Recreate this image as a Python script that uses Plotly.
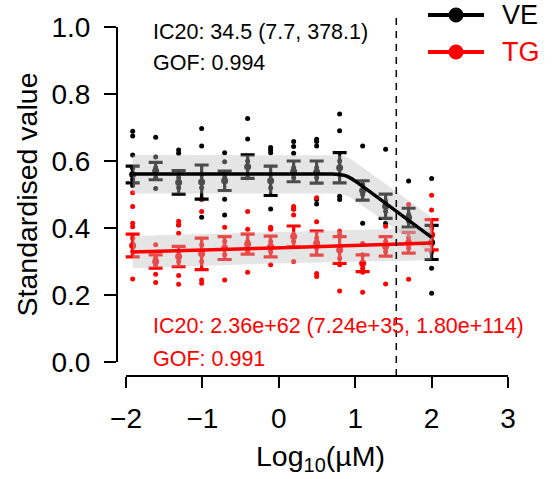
import math
import plotly.graph_objects as go

# ---------------- data ----------------
log_conc = [-1.913, -1.612, -1.311, -1.010, -0.709, -0.408, -0.107,
            0.194, 0.495, 0.796, 1.097, 1.398, 1.699, 2.000]

ve_mean = [0.560, 0.570, 0.536, 0.537, 0.541, 0.583, 0.541,
           0.569, 0.567, 0.580, 0.512, 0.465, 0.431, 0.357]
ve_se = [0.025, 0.026, 0.035, 0.051, 0.029, 0.035, 0.044,
         0.031, 0.033, 0.045, 0.029, 0.036, 0.028, 0.051]
tg_mean = [0.348, 0.300, 0.315, 0.323, 0.340, 0.352, 0.345,
           0.375, 0.355, 0.334, 0.295, 0.345, 0.356, 0.380]
tg_se = [0.034, 0.020, 0.030, 0.047, 0.034, 0.030, 0.031,
         0.031, 0.036, 0.040, 0.025, 0.029, 0.031, 0.045]

ve_points = [
    [0.689, 0.675, 0.618, 0.578, 0.545, 0.527],
    [0.671, 0.612, 0.580, 0.550, 0.518],
    [0.633, 0.623, 0.550, 0.520, 0.409],
    [0.697, 0.645, 0.560, 0.520, 0.486, 0.432],
    [0.625, 0.598, 0.550, 0.486, 0.439],
    [0.727, 0.666, 0.600, 0.550],
    [0.640, 0.633, 0.625, 0.560, 0.520, 0.457],
    [0.658, 0.643, 0.623, 0.580, 0.550, 0.457],
    [0.665, 0.658, 0.645, 0.580, 0.550, 0.485, 0.472],
    [0.740, 0.690, 0.600, 0.560, 0.495, 0.485],
    [0.645, 0.530, 0.500, 0.414],
    [0.635, 0.480, 0.450, 0.414],
    [0.540, 0.440, 0.420],
    [0.548, 0.380, 0.330, 0.280, 0.205],
]
tg_points = [
    [0.505, 0.464, 0.414, 0.404, 0.370, 0.330, 0.248],
    [0.350, 0.310, 0.290, 0.262, 0.237],
    [0.420, 0.410, 0.384, 0.330, 0.300, 0.258, 0.232],
    [0.486, 0.449, 0.350, 0.300, 0.245, 0.235],
    [0.402, 0.360, 0.320, 0.245],
    [0.449, 0.396, 0.360, 0.330, 0.268],
    [0.402, 0.396, 0.360, 0.330, 0.290],
    [0.464, 0.456, 0.439, 0.380, 0.360, 0.300],
    [0.490, 0.419, 0.370, 0.340, 0.264, 0.255],
    [0.390, 0.380, 0.340, 0.310, 0.290, 0.212],
    [0.354, 0.320, 0.280, 0.268, 0.208],
    [0.405, 0.360, 0.330, 0.233],
    [0.470, 0.370, 0.340, 0.247],
    [0.498, 0.454, 0.400, 0.360, 0.330],
]

ve_fit_x = [-1.913, 0.70, 0.78, 0.86, 0.94, 1.02, 2.00]
ve_fit_y = [0.561, 0.561, 0.560, 0.557, 0.549, 0.537, 0.372]
ve_fit_lo = [0.503, 0.503, 0.502, 0.499, 0.491, 0.479, 0.322]
ve_fit_hi = [0.618, 0.618, 0.617, 0.614, 0.606, 0.594, 0.432]

tg_fit_x = [-1.913, 0.04, 2.00]
tg_fit_y = [0.328, 0.341, 0.355]
tg_fit_lo = [0.280, 0.295, 0.304]
tg_fit_hi = [0.376, 0.389, 0.401]

ve_ic20 = 34.5
series_names = ["VE", "TG"]
ve_labels = ["IC20: 34.5 (7.7, 378.1)", "GOF: 0.994"]
tg_labels = ["IC20: 2.36e+62 (7.24e+35, 1.80e+114)", "GOF: 0.991"]
x_ticks = [-2, -1, 0, 1, 2, 3]
y_ticks = [0.0, 0.2, 0.4, 0.6, 0.8, 1.0]
y_ticktext = ["0.0", "0.2", "0.4", "0.6", "0.8", "1.0"]

# ---------------- style ----------------
FONT = "Liberation Sans, Arial, sans-serif"
BLACK = "#000000"
RED = "#FF0000"
RIBBON = "rgba(190,190,190,0.4)"

W, H = 560, 479
ML, MR, MT, MB = 117, 40, 17, 103
PW = W - ML - MR
PH = H - MT - MB
XR = [-2.118, -2.118 + PW / 76.4]
YR = [-14 / 335, -14 / 335 + PH / 335]


def px2paper_x(px):
    return (px - ML) / PW


def px2paper_y(py):
    return (H - MB - py) / PH


def flatten(cols, xs):
    fx, fy = [], []
    for x, col in zip(xs, cols):
        for v in col:
            fx.append(x)
            fy.append(v)
    return fx, fy


fig = go.Figure()

# raw points
for pts, col in [(ve_points, BLACK), (tg_points, RED)]:
    fx, fy = flatten(pts, log_conc)
    fig.add_trace(go.Scatter(x=fx, y=fy, mode="markers",
                             marker=dict(color=col, size=5, line=dict(width=0)),
                             showlegend=False, hoverinfo="skip"))

# means with error bars
for m, se, col in [(ve_mean, ve_se, BLACK), (tg_mean, tg_se, RED)]:
    fig.add_trace(go.Scatter(x=log_conc, y=m, mode="markers",
                             marker=dict(color=col, size=7, line=dict(width=0)),
                             error_y=dict(type="data", array=se, visible=True,
                                          color=col, thickness=3.2, width=7),
                             showlegend=False, hoverinfo="skip"))

# ribbons
for fx, lo, hi in [(ve_fit_x, ve_fit_lo, ve_fit_hi), (tg_fit_x, tg_fit_lo, tg_fit_hi)]:
    fig.add_trace(go.Scatter(x=fx + fx[::-1], y=hi + lo[::-1], mode="lines",
                             fill="toself", fillcolor=RIBBON,
                             line=dict(width=0, color="rgba(0,0,0,0)"),
                             showlegend=False, hoverinfo="skip"))

# fitted lines
for fx, fy, col in [(ve_fit_x, ve_fit_y, BLACK), (tg_fit_x, tg_fit_y, RED)]:
    fig.add_trace(go.Scatter(x=fx, y=fy, mode="lines",
                             line=dict(color=col, width=3.5, shape="spline", smoothing=0.6),
                             showlegend=False, hoverinfo="skip"))

shapes = []
# axis lines (R base style, detached)
shapes.append(dict(type="line", xref="paper", yref="y", x0=0, x1=0,
                   y0=y_ticks[0], y1=y_ticks[-1], line=dict(color=BLACK, width=2)))
shapes.append(dict(type="line", xref="x", yref="paper", x0=x_ticks[0], x1=x_ticks[-1],
                   y0=0, y1=0, line=dict(color=BLACK, width=2)))
# IC20 line
shapes.append(dict(type="line", xref="x", yref="paper",
                   x0=math.log10(ve_ic20), x1=math.log10(ve_ic20), y0=0, y1=1,
                   line=dict(color=BLACK, width=1.5, dash="7px,6px")))

# manual legend
annotations = []
for i, (name, col) in enumerate(zip(series_names, [BLACK, RED])):
    py = 15 + i * 37
    yy = px2paper_y(py)
    shapes.append(dict(type="line", xref="paper", yref="paper",
                       x0=px2paper_x(428), x1=px2paper_x(484), y0=yy, y1=yy,
                       line=dict(color=col, width=4)))
    shapes.append(dict(type="circle", xref="paper", yref="paper",
                       xsizemode="pixel", ysizemode="pixel",
                       xanchor=px2paper_x(456), yanchor=yy,
                       x0=-7.5, x1=7.5, y0=-7.5, y1=7.5,
                       fillcolor=col, line=dict(color=col, width=0)))
    annotations.append(dict(text=name, xref="paper", yref="paper",
                            x=px2paper_x(500), y=yy, xanchor="left", yanchor="middle",
                            showarrow=False, font=dict(family=FONT, size=27, color=col)))

for txt, py, col in [(ve_labels[0], 32, BLACK), (ve_labels[1], 63, BLACK),
                     (tg_labels[0], 326, RED), (tg_labels[1], 359, RED)]:
    annotations.append(dict(text=txt, xref="paper", yref="paper",
                            x=px2paper_x(151), y=px2paper_y(py),
                            xanchor="left", yanchor="middle", showarrow=False,
                            font=dict(family=FONT, size=21.5, color=col)))

# axis titles
annotations.append(dict(text="Standardised value", xref="paper", yref="y",
                        x=px2paper_x(26), y=0.5, textangle=-90,
                        xanchor="center", yanchor="middle", showarrow=False,
                        font=dict(family=FONT, size=28.5, color=BLACK)))
annotations.append(dict(text="Log<sub>10</sub>(µM)", xref="x", yref="paper",
                        x=0.55, y=px2paper_y(458),
                        xanchor="center", yanchor="middle", showarrow=False,
                        font=dict(family=FONT, size=28.5, color=BLACK)))

fig.update_layout(
    width=W, height=H,
    margin=dict(l=ML, r=MR, t=MT, b=MB, pad=0),
    paper_bgcolor="white", plot_bgcolor="white",
    showlegend=False,
    font=dict(family=FONT, color=BLACK),
    xaxis=dict(range=XR, tickmode="array", tickvals=x_ticks,
               showgrid=False, zeroline=False, showline=False,
               ticks="outside", ticklen=11, tickwidth=2, tickcolor=BLACK,
               ticklabelstandoff=6,
               tickfont=dict(family=FONT, size=28, color=BLACK)),
    yaxis=dict(range=YR, tickmode="array", tickvals=y_ticks, ticktext=y_ticktext,
               showgrid=False, zeroline=False, showline=False,
               ticks="outside", ticklen=12, tickwidth=2, tickcolor=BLACK,
               ticklabelstandoff=8,
               tickfont=dict(family=FONT, size=28, color=BLACK)),
    shapes=shapes,
    annotations=annotations,
)

fig.write_html("out.html",
               config={"displayModeBar": False},
               post_script="document.body.style.margin='0';document.body.style.padding='0';")
